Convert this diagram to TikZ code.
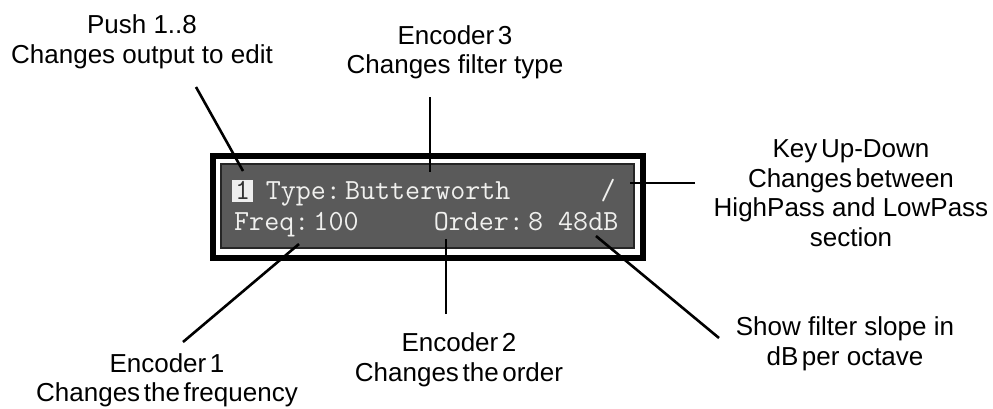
\documentclass[tikz,border=0pt]{standalone}
\usepackage{fontspec}
\setmainfont{Liberation Sans}
\newcommand\ts{\hspace{0.14em}}
\newcommand\cg{\kern0.14em}
\begin{document}
\begin{tikzpicture}[x=1pt,y=-1pt,
  lbl/.style={align=center,anchor=base,inner sep=0pt,font=\fontsize{26}{29.5}\selectfont},
  lcd/.style={anchor=base west,inner sep=0pt,text=lcdtext,font=\ttfamily\fontsize{29.2}{30}\selectfont},
  wire/.style={line width=2.6pt,black}]
\definecolor{lcdgray}{HTML}{5A5A5A}
\definecolor{lcdtext}{HTML}{F0F0EE}
\definecolor{lcdkey}{HTML}{EEEEEE}
\useasboundingbox (0,0) rectangle (993,408);
% display
\draw[line width=6pt,black] (213,156) rectangle (643,258);
\draw[line width=1.2pt,draw=black!85,fill=lcdgray] (221,164) rectangle (634,248);
\fill[lcdkey] (232,180) rectangle (253,202);
\node[lcd,text=black!80] (one) at (235,199) {1};
\node[lcd] (row1) at (265.6,199) {Type:\cg Butterworth~~~~~~/};
\node[lcd] (row2) at (234,230) {Freq:\cg 100~~~~~Order:\cg 8~48dB};
% labels (anchor = baseline of the last line)
\node[lbl] (push) at (142,63) {Push 1..8\\Changes output to edit};
\node[lbl] (enc3) at (455,73.5) {Encoder\ts 3\\Changes filter type};
\node[lbl] (key) at (851,246) {Key\ts Up-Down\\Changes\ts between\\HighPass and LowPass\\section};
\node[lbl] (enc1) at (167,401.5) {Encoder\ts 1\\Changes\ts the\ts frequency};
\node[lbl] (enc2) at (459,381) {Encoder\ts 2\\Changes\ts the\ts order};
\node[lbl] (slope) at (845,365) {Show filter slope in\\dB\ts per octave};
% connector ends
\coordinate (pushA) at (196,87);   \coordinate (pushB) at (243,171);
\coordinate (enc3A) at (430,97);   \coordinate (enc3B) at (430,172);
\coordinate (keyA) at (695,183);   \coordinate (keyB) at (630,183);
\coordinate (enc1A) at (183,342);  \coordinate (enc1B) at (299,244);
\coordinate (enc2A) at (446,314);  \coordinate (enc2B) at (446,239);
\coordinate (slopeA) at (719,338); \coordinate (slopeB) at (596,236);
\draw[wire] (pushA) -- (pushB);
\draw[wire] (enc3A) -- (enc3B);
\draw[wire] (keyA) -- (keyB);
\draw[wire] (enc1A) -- (enc1B);
\draw[wire] (enc2A) -- (enc2B);
\draw[wire] (slopeA) -- (slopeB);
\end{tikzpicture}
\end{document}
